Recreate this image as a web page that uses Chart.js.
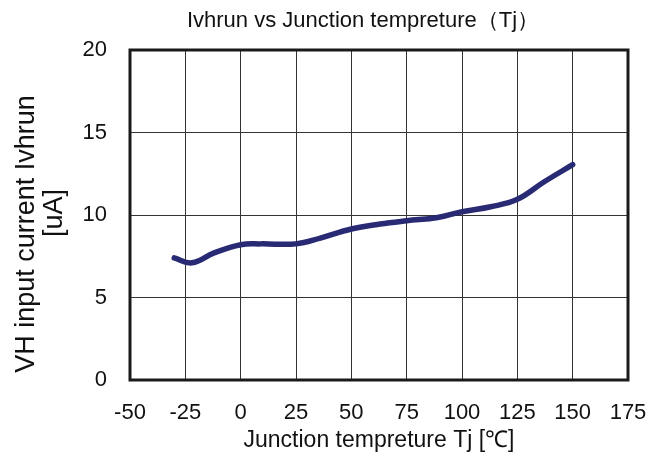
<!DOCTYPE html>
<html>
<head>
<meta charset="utf-8">
<script src="https://cdn.jsdelivr.net/npm/chart.js@4.4.0/dist/chart.umd.min.js"></script>
<style>
  html, body { margin: 0; padding: 0; background: #fff; }
  #wrap { width: 648px; height: 460px; }
</style>
</head>
<body>
<div id="wrap"><canvas id="chart" width="648" height="460"></canvas></div>
<script>
// Junction temperature (deg C) and input current Ivhrun (uA)
const temps = [-30, -22, -12, 0, 9, 25, 36, 50, 63, 75, 89, 100, 113, 125, 137, 150];
const ivhrun = [7.4, 7.1, 7.7, 8.2, 8.25, 8.25, 8.6, 9.15, 9.45, 9.65, 9.85, 10.2, 10.5, 10.95, 12.0, 13.05];

const xTicks = [-50, -25, 0, 25, 50, 75, 100, 125, 150, 175];
const yTicks = [0, 5, 10, 15, 20];

const chartTitle = 'Ivhrun vs Junction tempreture（Tj）';
const yTitle = ['VH input current Ivhrun', '[uA]'];
const xTitle = 'Junction tempreture Tj [℃]';

const FONT = "'Liberation Sans', Arial, Helvetica, sans-serif";

// heavy frame round the plot area, plus the chart title and the two-line y title
const framePlugin = {
  id: 'frame',
  afterDatasetsDraw(chart) {
    const a = chart.chartArea;
    const ctx = chart.ctx;
    ctx.save();
    ctx.strokeStyle = '#1a1a1a';
    ctx.lineWidth = 3;
    ctx.strokeRect(a.left, a.top, a.right - a.left, a.bottom - a.top);
    ctx.restore();
  },
  afterDraw(chart) {
    const ctx = chart.ctx;
    ctx.save();
    ctx.fillStyle = '#111';
    ctx.textAlign = 'center';
    ctx.textBaseline = 'middle';
    ctx.font = '22px ' + FONT;
    ctx.fillText(chartTitle, 363, 21);

    ctx.font = '27px ' + FONT;
    ctx.translate(27, 234);
    ctx.rotate(-Math.PI / 2);
    ctx.fillText(yTitle[0], 0, 0);
    ctx.fillText(yTitle[1], 21, 28);
    ctx.restore();
  }
};

const points = temps.map((t, i) => ({ x: t, y: ivhrun[i] }));

new Chart(document.getElementById('chart'), {
  type: 'scatter',
  data: {
    datasets: [{
      data: points,
      showLine: true,
      borderColor: '#282a74',
      borderWidth: 5.5,
      pointRadius: 0,
      tension: 0.4,
      borderCapStyle: 'round',
      fill: false
    }]
  },
  options: {
    responsive: false,
    animation: false,
    layout: { padding: { left: 0, right: 20, top: 50, bottom: 0 } },
    plugins: {
      legend: { display: false },
      tooltip: { enabled: false },
      title: { display: false }
    },
    scales: {
      x: {
        type: 'linear',
        min: -50,
        max: 175,
        afterBuildTicks: s => { s.ticks = xTicks.map(v => ({ value: v })); },
        afterFit: s => { s.height = 80; s.paddingLeft = 0; s.paddingRight = 0; },
        grid: { color: '#333', lineWidth: 1, drawTicks: false },
        border: { display: false },
        ticks: {
          color: '#111',
          padding: 20,
          maxRotation: 0,
          font: { family: FONT, size: 22 }
        },
        title: {
          display: true,
          text: xTitle,
          color: '#111',
          font: { family: FONT, size: 23 },
          padding: { top: 4, bottom: 6 }
        }
      },
      y: {
        min: 0,
        max: 20,
        afterBuildTicks: s => { s.ticks = yTicks.map(v => ({ value: v })); },
        afterFit: s => { s.width = 130; s.paddingTop = 0; s.paddingBottom = 0; },
        grid: { color: '#333', lineWidth: 1, drawTicks: false },
        border: { display: false },
        ticks: {
          color: '#111',
          padding: 23,
          font: { family: FONT, size: 22 }
        }
      }
    }
  },
  plugins: [framePlugin]
});
</script>
</body>
</html>
